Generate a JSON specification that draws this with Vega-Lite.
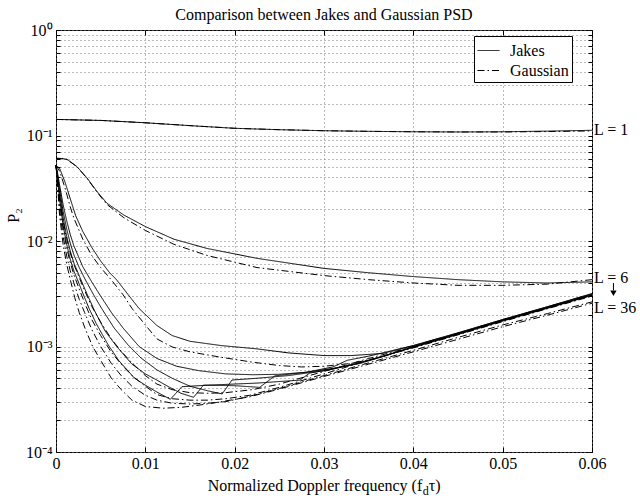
{
"$schema":"https://vega.github.io/schema/vega-lite/v6.json",
"width":536,"height":422,
"autosize":{"type":"none"},
"padding":{"left":56,"top":30,"right":48,"bottom":47},
"title":{"text":"Comparison between Jakes and Gaussian PSD","font":"Liberation Serif","fontSize":16,"fontWeight":"normal","color":"black","offset":11,"dy":12},
"config":{
"view":{"stroke":"black","strokeWidth":1},
"axis":{"domain":false,"labelFont":"Liberation Serif","labelFontSize":16,"labelColor":"black","tickColor":"black","titleFont":"Liberation Serif","titleFontSize":16,"titleFontWeight":"normal","titleColor":"black","gridColor":"#777","gridDash":[1,3],"gridOpacity":1,"labelFlush":false,"labelOverlap":false}
},
"layer":[
{
"data":{"values":[
{"m":"Jakes","L":1,"x":[0,0.005,0.01,0.015,0.02,0.025,0.03,0.035,0.04,0.045,0.05,0.055,0.06],"y":[0.142,0.139,0.132,0.124,0.117,0.1135,0.111,0.1095,0.1085,0.108,0.1085,0.11,0.112]},
{"m":"Gaussian","L":1,"x":[0,0.005,0.01,0.015,0.02,0.025,0.03,0.035,0.04,0.045,0.05,0.055,0.06],"y":[0.142,0.139,0.132,0.124,0.117,0.1135,0.111,0.1095,0.1085,0.108,0.108,0.109,0.1105]},
{"m":"Jakes","L":6,"x":[0,0.0006,0.00123,0.00235,0.0035,0.0046,0.0057,0.0076,0.01,0.0132,0.0169,0.0225,0.03,0.035,0.04,0.045,0.05,0.055,0.06],"y":[0.0608,0.0605,0.0594,0.0507,0.0393,0.0294,0.0228,0.0176,0.0137,0.0104,0.0085,0.00685,0.0055,0.005,0.0046,0.0043,0.0041,0.004,0.0041]},
{"m":"Gaussian","L":6,"x":[0,0.0006,0.00123,0.00235,0.0035,0.0046,0.0057,0.0076,0.01,0.0132,0.0169,0.0225,0.03,0.035,0.04,0.045,0.05,0.055,0.06],"y":[0.0608,0.0605,0.0594,0.0505,0.039,0.029,0.0222,0.0166,0.0126,0.0093,0.0073,0.0056,0.0047,0.0043,0.004,0.0038,0.0038,0.0039,0.0043]},
{"m":"Jakes","L":12,"x":[0,0.0004,0.001,0.0016,0.0022,0.003,0.004,0.005,0.006,0.0068,0.008,0.0093,0.0113,0.013,0.015,0.0185,0.0225,0.026,0.03,0.033,0.0366,0.04,0.045,0.05,0.055,0.06],"y":[0.052,0.049,0.0363,0.0251,0.0174,0.0123,0.0087,0.00646,0.00501,0.00427,0.00316,0.00229,0.00158,0.00127,0.00112,0.00102,0.00095,0.00087,0.00082,0.00082,0.00086,0.00102,0.00134,0.0018,0.00238,0.00318]},
{"m":"Gaussian","L":12,"x":[0,0.0004,0.001,0.0016,0.002,0.003,0.004,0.005,0.0062,0.0075,0.0085,0.01,0.0113,0.013,0.015,0.0185,0.022,0.025,0.0275,0.03,0.033,0.036,0.04,0.045,0.05,0.055,0.06],"y":[0.052,0.046,0.032,0.021,0.0165,0.0104,0.0073,0.0056,0.00427,0.0031,0.0023,0.0016,0.00118,0.00099,0.00089,0.00079,0.00071,0.00066,0.00064,0.00065,0.00069,0.00078,0.00099,0.00132,0.00176,0.00232,0.00305]},
{"m":"Jakes","L":18,"x":[0,0.0002,0.0004,0.0008,0.0012,0.0016,0.002,0.003,0.004,0.005,0.0062,0.0075,0.0093,0.0113,0.0135,0.016,0.019,0.022,0.025,0.028,0.031,0.034,0.037,0.04,0.045,0.05,0.055,0.06],"y":[0.052,0.043,0.034,0.022,0.0155,0.0115,0.009,0.0057,0.0041,0.003,0.0021,0.0015,0.001,0.00077,0.00065,0.00059,0.00055,0.00054,0.000545,0.00057,0.00062,0.00069,0.00082,0.001,0.00133,0.00178,0.00235,0.00312]},
{"m":"Gaussian","L":18,"x":[0,0.0002,0.0004,0.0008,0.0012,0.0016,0.002,0.0026,0.0032,0.004,0.005,0.0062,0.0073,0.0085,0.01,0.0113,0.013,0.015,0.017,0.019,0.022,0.025,0.03,0.035,0.04,0.045,0.05,0.055,0.06],"y":[0.052,0.038,0.026,0.0155,0.0105,0.0077,0.006,0.0045,0.0034,0.0024,0.0017,0.00118,0.0009,0.0007,0.00053,0.00044,0.00039,0.000365,0.00036,0.000365,0.00039,0.00044,0.00058,0.00077,0.001,0.00133,0.00177,0.00233,0.00307]},
{"m":"Jakes","L":24,"x":[0,0.0002,0.0004,0.0008,0.0012,0.0016,0.002,0.0026,0.0033,0.0042,0.0051,0.0065,0.008,0.0095,0.0113,0.013,0.015,0.017,0.0186,0.0197,0.0225,0.026,0.03,0.033,0.036,0.04,0.045,0.05,0.055,0.06],"y":[0.052,0.041,0.031,0.019,0.013,0.0095,0.0074,0.0056,0.00427,0.0031,0.0023,0.0015,0.00105,0.00078,0.0006,0.0005,0.00042,0.00038,0.000355,0.000481,0.0005,0.00053,0.00059,0.00067,0.00078,0.00099,0.00131,0.00176,0.00232,0.00308]},
{"m":"Gaussian","L":24,"x":[0,0.0002,0.0004,0.0008,0.0012,0.0016,0.002,0.0026,0.0032,0.004,0.005,0.0062,0.0073,0.0085,0.01,0.0113,0.013,0.015,0.017,0.019,0.0217,0.025,0.03,0.035,0.04,0.045,0.05,0.055,0.06],"y":[0.052,0.036,0.023,0.013,0.0086,0.0062,0.0048,0.0035,0.0026,0.0018,0.00127,0.00088,0.00068,0.00053,0.00042,0.00035,0.00032,0.00031,0.00031,0.00032,0.000345,0.00041,0.00055,0.00074,0.00097,0.00129,0.00172,0.00228,0.003]},
{"m":"Jakes","L":30,"x":[0,0.0002,0.0004,0.0008,0.0012,0.0016,0.002,0.0028,0.0035,0.0043,0.0055,0.0068,0.0085,0.01,0.0113,0.0125,0.014,0.0154,0.0165,0.02,0.0228,0.0245,0.028,0.031,0.0326,0.035,0.04,0.045,0.05,0.055,0.06],"y":[0.052,0.039,0.028,0.0165,0.011,0.008,0.0062,0.00427,0.0031,0.0022,0.0014,0.001,0.00068,0.00055,0.00048,0.00042,0.00036,0.00033,0.00043,0.000425,0.00041,0.000527,0.00057,0.00064,0.00074,0.00081,0.00102,0.00135,0.0018,0.00238,0.00315]},
{"m":"Gaussian","L":30,"x":[0,0.0002,0.0004,0.0008,0.0012,0.0016,0.002,0.0026,0.0032,0.004,0.005,0.0062,0.0073,0.0085,0.01,0.0113,0.013,0.015,0.017,0.019,0.0217,0.025,0.03,0.035,0.04,0.045,0.05,0.055,0.06],"y":[0.052,0.034,0.02,0.011,0.0072,0.0052,0.004,0.0028,0.0021,0.00145,0.001,0.00069,0.00053,0.00042,0.000345,0.00031,0.00029,0.000285,0.00029,0.0003,0.000338,0.0004,0.00053,0.0007,0.00092,0.00122,0.0016,0.00205,0.00265]},
{"m":"Jakes","L":36,"x":[0,0.0002,0.0004,0.0008,0.0012,0.0016,0.002,0.0024,0.003,0.0037,0.0045,0.0058,0.007,0.0088,0.01,0.0113,0.0128,0.0141,0.017,0.0225,0.0273,0.0284,0.031,0.034,0.037,0.04,0.045,0.05,0.055,0.06],"y":[0.052,0.037,0.025,0.014,0.0093,0.0067,0.0052,0.0043,0.0032,0.0023,0.00165,0.00105,0.00074,0.0005,0.00043,0.00037,0.000316,0.000416,0.00043,0.00045,0.00048,0.00056,0.00061,0.0007,0.00083,0.00098,0.0013,0.00174,0.0023,0.00305]},
{"m":"Gaussian","L":36,"x":[0,0.0002,0.0004,0.0008,0.0012,0.0016,0.0021,0.0026,0.0033,0.0041,0.005,0.0062,0.0073,0.0085,0.01,0.012,0.014,0.016,0.018,0.02,0.0217,0.025,0.03,0.035,0.04,0.045,0.05,0.055,0.06],"y":[0.052,0.032,0.0175,0.0092,0.006,0.0043,0.0029,0.0021,0.00145,0.001,0.00074,0.0005,0.00039,0.00031,0.00027,0.00026,0.000265,0.000278,0.000295,0.000315,0.000334,0.000395,0.00052,0.00068,0.00089,0.00117,0.00154,0.00198,0.00257]}
]},
"transform":[{"flatten":["x","y"]}],
"mark":{"type":"line","color":"black","strokeWidth":1},
"encoding":{
"x":{"field":"x","type":"quantitative","scale":{"domain":[0,0.06],"nice":false},"axis":{"orient":"bottom","values":[0,0.01,0.02,0.03,0.04,0.05,0.06],"format":".2~f","title":null,"grid":true,"tickSize":-5,"labelPadding":8}},
"y":{"field":"y","type":"quantitative","scale":{"type":"log","domain":[0.0001,1],"nice":false},"axis":{"orient":"left","values":[0.0001,0.0002,0.0003,0.0004,0.0005,0.0006,0.0007,0.0008,0.0009,0.001,0.002,0.003,0.004,0.005,0.006,0.007,0.008,0.009,0.01,0.02,0.03,0.04,0.05,0.06,0.07,0.08,0.09,0.1,0.2,0.3,0.4,0.5,0.6,0.7,0.8,0.9,1],"labelExpr":"datum.value==1?'10⁰':datum.value==0.1?'10⁻¹':datum.value==0.01?'10⁻²':datum.value==0.001?'10⁻³':datum.value==0.0001?'10⁻⁴':''","grid":true,"tickSize":-4,"labelPadding":8,"title":"P₂","titleAngle":-90,"titleX":-43,"titleY":185,"titleBaseline":"middle","titleAlign":"center"}},
"strokeDash":{"field":"m","type":"nominal","scale":{"domain":["Jakes","Gaussian"],"range":[[1,0],[7,3,1.5,3]]},"legend":{"orient":"none","legendX":418,"legendY":6,"title":null,"strokeColor":"black","fillColor":"white","padding":3,"labelFontSize":16,"labelFont":"Liberation Serif","labelColor":"black","labelExpr":"datum.label + '\u00a0\u00a0\u00a0\u00a0'","symbolType":"stroke","symbolSize":484,"symbolStrokeWidth":1,"symbolStrokeColor":"black","labelOffset":10,"rowPadding":0}},
"detail":{"field":"L","type":"nominal"}
}
},
{
"data":{"values":[{"x":0.06,"y":0.112,"t":"L = 1"},{"x":0.06,"y":0.00446,"t":"L = 6"},{"x":0.06,"y":0.0023,"t":"L = 36"}]},
"mark":{"type":"text","align":"left","baseline":"middle","dx":2,"font":"Liberation Serif","fontSize":16,"color":"black"},
"encoding":{
"x":{"field":"x","type":"quantitative","axis":{"orient":"top","values":[0,0.01,0.02,0.03,0.04,0.05,0.06],"labels":false,"grid":false,"tickSize":-5,"title":null}},
"y":{"field":"y","type":"quantitative","scale":{"type":"log"},"axis":{"orient":"right","values":[0.0001,0.0002,0.0003,0.0004,0.0005,0.0006,0.0007,0.0008,0.0009,0.001,0.002,0.003,0.004,0.005,0.006,0.007,0.008,0.009,0.01,0.02,0.03,0.04,0.05,0.06,0.07,0.08,0.09,0.1,0.2,0.3,0.4,0.5,0.6,0.7,0.8,0.9,1],"labels":false,"grid":false,"tickSize":-4,"title":null}},
"text":{"field":"t"}
}
},
{
"data":{"values":[{"x":0.0624,"y":0.004,"y2":0.0034}]},
"mark":{"type":"rule","color":"black","strokeWidth":1},
"encoding":{"x":{"field":"x","type":"quantitative","axis":null},"y":{"field":"y","type":"quantitative","scale":{"type":"log"},"axis":null},"y2":{"field":"y2"}}
},
{
"data":{"values":[{"x":0.0624,"y":0.0032}]},
"mark":{"type":"point","shape":"triangle-down","filled":true,"color":"black","size":40,"opacity":1},
"encoding":{"x":{"field":"x","type":"quantitative","axis":null},"y":{"field":"y","type":"quantitative","scale":{"type":"log"},"axis":null}}
},
{
"data":{"values":[{"x":0.041,"y":0.0001,"t":"Normalized Doppler frequency (f"},{"x":0.041,"y":0.0001,"t":"d"},{"x":0.041,"y":0.0001,"t":"τ)"}]},
"layer":[
{"transform":[{"filter":"datum.t!='d' && datum.t!='τ)'"}],"mark":{"type":"text","align":"right","baseline":"alphabetic","dy":38.5,"font":"Liberation Serif","fontSize":16,"color":"black"},
"encoding":{"x":{"field":"x","type":"quantitative","axis":null},"y":{"field":"y","type":"quantitative","scale":{"type":"log"},"axis":null},"text":{"field":"t"}}},
{"transform":[{"filter":"datum.t=='d'"}],"mark":{"type":"text","align":"left","baseline":"alphabetic","dx":0.5,"dy":42.5,"font":"Liberation Serif","fontSize":12,"color":"black"},
"encoding":{"x":{"field":"x","type":"quantitative","axis":null},"y":{"field":"y","type":"quantitative","scale":{"type":"log"},"axis":null},"text":{"field":"t"}}},
{"transform":[{"filter":"datum.t=='τ)'"}],"mark":{"type":"text","align":"left","baseline":"alphabetic","dx":6.5,"dy":38.5,"font":"Liberation Serif","fontSize":16,"color":"black"},
"encoding":{"x":{"field":"x","type":"quantitative","axis":null},"y":{"field":"y","type":"quantitative","scale":{"type":"log"},"axis":null},"text":{"field":"t"}}}
]
}
],
"resolve":{"axis":{"x":"independent","y":"independent"}}
}
